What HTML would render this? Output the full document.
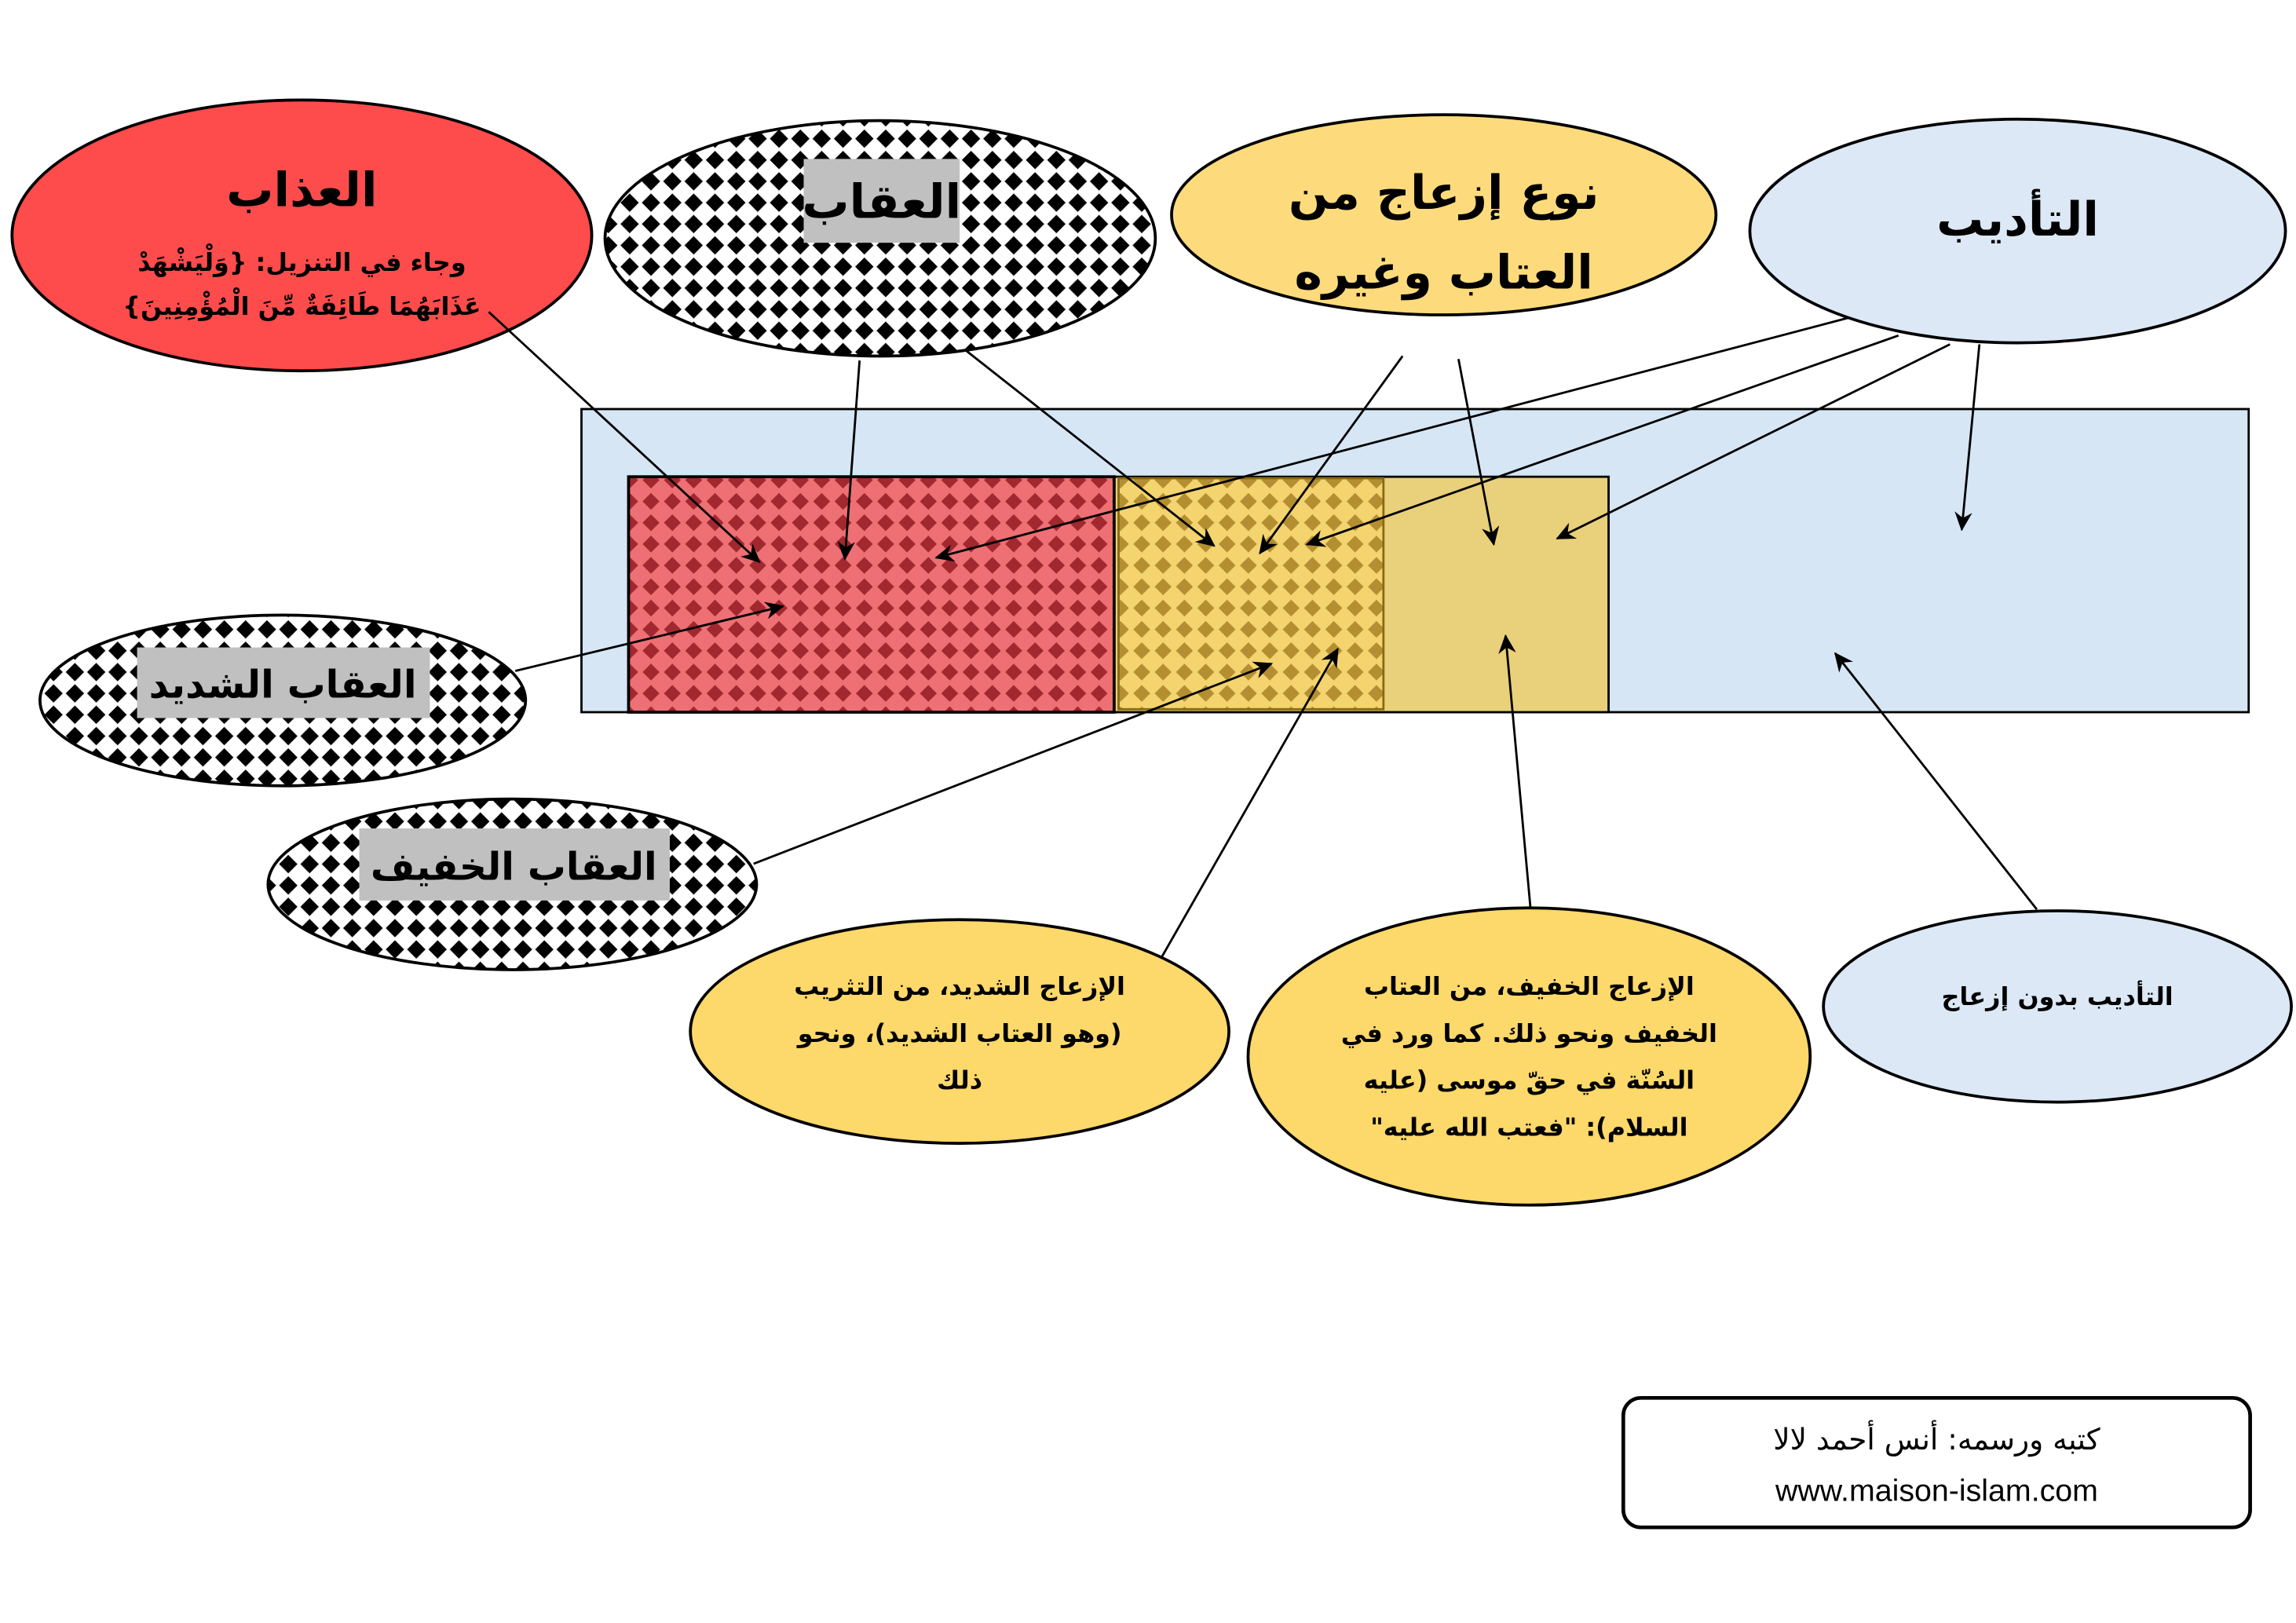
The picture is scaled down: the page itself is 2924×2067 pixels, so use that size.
<!DOCTYPE html>
<html><head><meta charset="utf-8"><style>
html,body{margin:0;padding:0;background:#fff;}
svg{display:block;}
text{font-family:"DejaVu Sans","Liberation Sans",sans-serif;font-weight:bold;fill:#000;}
</style></head><body>
<svg width="2924" height="2067" viewBox="0 0 1560 1103" xmlns="http://www.w3.org/2000/svg">
<defs>
<pattern id="chk" width="14.5" height="14.5" patternUnits="userSpaceOnUse">
<rect width="14.5" height="14.5" fill="#fff"/>
<polygon points="7.25,1 13.5,7.25 7.25,13.5 1,7.25" fill="#000"/>
</pattern>
<pattern id="red" width="14.5" height="14.5" patternUnits="userSpaceOnUse">
<rect width="14.5" height="14.5" fill="#ee7074"/>
<polygon points="7.25,1.5 13,7.25 7.25,13 1.5,7.25" fill="#a0282e"/>
</pattern>
<pattern id="yel" width="14.5" height="14.5" patternUnits="userSpaceOnUse">
<rect width="14.5" height="14.5" fill="#f3d46e"/>
<polygon points="7.25,1.5 13,7.25 7.25,13 1.5,7.25" fill="#b48f32"/>
</pattern>
<marker id="ah" markerWidth="14" markerHeight="12" refX="12" refY="6" orient="auto" markerUnits="userSpaceOnUse">
<path d="M0,0 L13,6 L0,12 L4,6 Z" fill="#000"/>
</marker>
</defs>

<rect x="395" y="278" width="1133" height="206" fill="#d6e6f5" stroke="#000" stroke-width="1.5"/>
<rect x="757" y="324" width="336" height="160" fill="#e9d07a" stroke="#000" stroke-width="1.5"/>
<rect x="427" y="324" width="330" height="160" fill="url(#red)" stroke="#000" stroke-width="2"/>
<rect x="760" y="325" width="180" height="157" fill="url(#yel)" stroke="#8a6a10" stroke-width="1.5"/>

<ellipse cx="205" cy="160" rx="197" ry="92" fill="#fe4b4b" stroke="#000" stroke-width="2"/>
<ellipse cx="598" cy="162" rx="187" ry="80" fill="url(#chk)" stroke="#000" stroke-width="2"/>
<ellipse cx="981" cy="146" rx="185" ry="68" fill="#fddb7c" stroke="#000" stroke-width="2"/>
<ellipse cx="1371" cy="157" rx="182" ry="76" fill="#dce8f5" stroke="#000" stroke-width="2"/>
<ellipse cx="192" cy="476" rx="165" ry="58" fill="url(#chk)" stroke="#000" stroke-width="2"/>
<ellipse cx="348" cy="601" rx="166" ry="58" fill="url(#chk)" stroke="#000" stroke-width="2"/>
<ellipse cx="652" cy="701" rx="183" ry="76" fill="#fdd86a" stroke="#000" stroke-width="2"/>
<ellipse cx="1039" cy="718" rx="191" ry="101" fill="#fdd86a" stroke="#000" stroke-width="2"/>
<ellipse cx="1398" cy="684" rx="159" ry="65" fill="#dce8f5" stroke="#000" stroke-width="2"/>

<rect x="546" y="108" width="106" height="57" fill="#c0c0c0"/>
<rect x="93" y="440" width="199" height="48" fill="#c0c0c0"/>
<rect x="244" y="563" width="211" height="49" fill="#c0c0c0"/>

<rect x="1103" y="950" width="426" height="88" rx="12" fill="#fff" stroke="#000" stroke-width="2.5"/>

<g stroke="#000" stroke-width="1.5" fill="none" marker-end="url(#ah)">
<line x1="332" y1="212" x2="516" y2="382"/>
<line x1="584" y1="245" x2="574" y2="380"/>
<line x1="656" y1="238" x2="825" y2="371"/>
<line x1="1256" y1="216" x2="636" y2="379"/>
<line x1="1290" y1="228" x2="888" y2="370"/>
<line x1="1325" y1="234" x2="1058" y2="366"/>
<line x1="1345" y1="234" x2="1333" y2="360"/>
<line x1="953" y1="242" x2="856" y2="376"/>
<line x1="991" y1="244" x2="1015" y2="370"/>
<line x1="350" y1="456" x2="532" y2="412"/>
<line x1="512" y1="587" x2="864" y2="451"/>
<line x1="789" y1="651" x2="909" y2="441"/>
<line x1="1040" y1="618" x2="1023" y2="432"/>
<line x1="1384" y1="618" x2="1247" y2="444"/>
</g>

<g direction="rtl" text-anchor="middle">
<text x="205" y="140" font-size="32">العذاب</text>
<text x="205" y="184" font-size="17">وجاء في التنزيل: {وَلْيَشْهَدْ</text>
<text x="205" y="214" font-size="17">عَذَابَهُمَا طَائِفَةٌ مِّنَ الْمُؤْمِنِينَ}</text>
<text x="599" y="148" font-size="32">العقاب</text>
<text x="981" y="142" font-size="32">نوع إزعاج من</text>
<text x="981" y="196" font-size="32">العتاب وغيره</text>
<text x="1371" y="160" font-size="32">التأديب</text>
<text x="192" y="474" font-size="26">العقاب الشديد</text>
<text x="349" y="598" font-size="26">العقاب الخفيف</text>
<text x="652" y="676" font-size="17">الإزعاج الشديد، من التثريب</text>
<text x="652" y="708" font-size="17">(وهو العتاب الشديد)، ونحو</text>
<text x="652" y="740" font-size="17">ذلك</text>
<text x="1039" y="676" font-size="17">الإزعاج الخفيف، من العتاب</text>
<text x="1039" y="708" font-size="17">الخفيف ونحو ذلك. كما ورد في</text>
<text x="1039" y="740" font-size="17">السُنّة في حقّ موسى (عليه</text>
<text x="1039" y="772" font-size="17">السلام): "فعتب الله عليه"</text>
<text x="1398" y="683" font-size="17">التأديب بدون إزعاج</text>
<text x="1316" y="985" font-size="20" style="font-weight:normal">كتبه ورسمه: أنس أحمد لالا</text>
</g>
<text x="1316" y="1020" font-size="21" text-anchor="middle" style="font-weight:normal;font-family:'Liberation Sans',sans-serif">www.maison-islam.com</text>
</svg>
</body></html>
